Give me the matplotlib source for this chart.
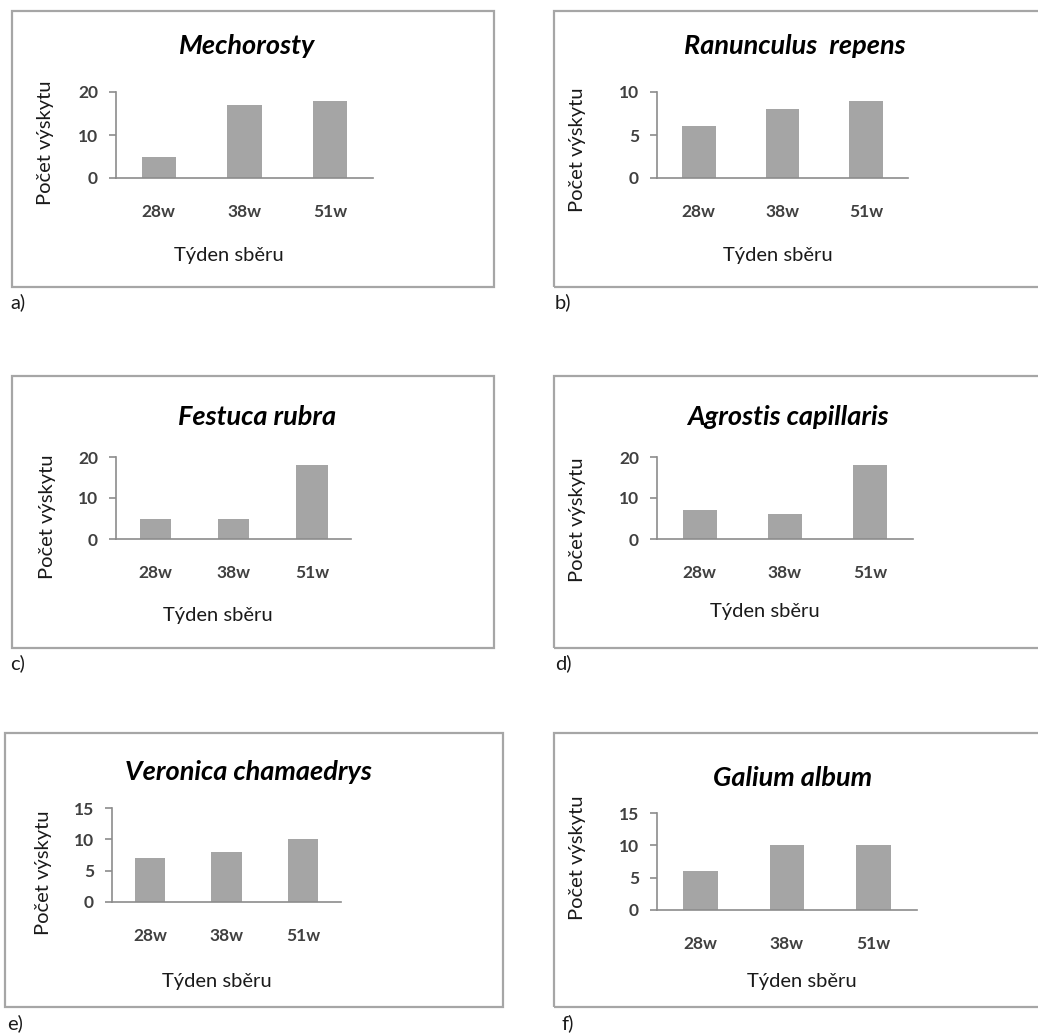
import matplotlib.pyplot as plt
from matplotlib.patches import Rectangle

weeks = ["28w", "38w", "51w"]
tags = ["a)", "b)", "c)", "d)", "e)", "f)"]
species = ["Mechorosty", "Ranunculus  repens", "Festuca rubra",
           "Agrostis capillaris", "Veronica chamaedrys", "Galium album"]

mechorosty = [5, 17, 18]
ranunculus = [6, 8, 9]
festuca = [5, 5, 18]
agrostis = [7, 6, 18]
veronica = [7, 8, 10]
galium = [6, 10, 10]
counts = [mechorosty, ranunculus, festuca, agrostis, veronica, galium]

y_ticks = [[0, 10, 20], [0, 5, 10], [0, 10, 20],
           [0, 10, 20], [0, 5, 10, 15], [0, 5, 10, 15]]

W, H = 1038, 1035
plt.rcParams['font.family'] = ['Lato', 'DejaVu Sans']

fig = plt.figure(figsize=(W / 100, H / 100), dpi=100)


def fx(x):
    return x / W


def fy(y):
    return 1 - y / H


# pixel layout of each panel: frame, plot area, title, axis labels, tag
layout = [
    dict(box=(12, 11, 494, 287), ax=(116, 92, 373, 178), title=(247, 46),
         xl=(229, 256), yl=(45, 143), tag=(10, 302)),
    dict(box=(554, 11, 1045, 287), ax=(657, 92, 908, 178), title=(795, 46),
         xl=(778, 256), yl=(578, 150), tag=(555, 302)),
    dict(box=(12, 376, 494, 648), ax=(116, 457, 351, 539), title=(257, 417),
         xl=(218, 615), yl=(47, 517), tag=(10, 663)),
    dict(box=(554, 376, 1045, 648), ax=(657, 457, 913, 539), title=(788, 417),
         xl=(765, 612), yl=(577, 520), tag=(555, 663)),
    dict(box=(5, 733, 503, 1007), ax=(112, 808, 341, 902), title=(248, 772),
         xl=(217, 982), yl=(43, 873), tag=(7, 1023)),
    dict(box=(554, 733, 1045, 1007), ax=(657, 813, 917, 910), title=(793, 778),
         xl=(802, 982), yl=(578, 858), tag=(561, 1023)),
]

bar_color = "#a5a5a5"
axis_color = "#8c8c8c"
text_color = "#404040"

for i, lay in enumerate(layout):
    bx0, by0, bx1, by1 = lay["box"]
    fig.patches.append(Rectangle((fx(bx0), fy(by1)), fx(bx1 - bx0), (by1 - by0) / H,
                                 transform=fig.transFigure, fill=False,
                                 edgecolor="#a6a6a6", linewidth=1.6))

    l, t, r, b = lay["ax"]
    ax = fig.add_axes([fx(l), fy(b), fx(r - l), (b - t) / H])
    ax.bar(range(len(weeks)), counts[i], width=0.4, color=bar_color)
    ax.set_xlim(-0.5, len(weeks) - 0.5)
    ax.set_ylim(0, y_ticks[i][-1])
    ax.set_yticks(y_ticks[i])
    ax.set_xticks(range(len(weeks)))
    ax.set_xticklabels(weeks)
    for s in ["top", "right"]:
        ax.spines[s].set_visible(False)
    for s in ["left", "bottom"]:
        ax.spines[s].set_color(axis_color)
        ax.spines[s].set_linewidth(1.2)
    ax.tick_params(axis="y", length=5, width=1.2, color=axis_color, pad=8,
                   labelsize=12.5, labelcolor=text_color)
    ax.tick_params(axis="x", length=0, pad=19, labelsize=12.5, labelcolor=text_color)
    for lab in ax.get_xticklabels() + ax.get_yticklabels():
        lab.set_fontweight("bold")
    ax.patch.set_alpha(0)

    tx, ty = lay["title"]
    fig.text(fx(tx), fy(ty), species[i], ha="center", va="center",
             fontsize=19.5, fontweight="bold", fontstyle="italic", color="black")
    x, y = lay["xl"]
    fig.text(fx(x), fy(y), "Týden sběru", ha="center", va="center",
             fontsize=14.5, color="#1a1a1a")
    x, y = lay["yl"]
    fig.text(fx(x), fy(y), "Počet výskytu", ha="center", va="center",
             rotation=90, fontsize=14.5, color="#1a1a1a")
    x, y = lay["tag"]
    fig.text(fx(x), fy(y), tags[i], ha="left", va="center",
             fontsize=14.5, color="#1a1a1a")

fig.savefig("out.png", dpi=100, facecolor="white")
